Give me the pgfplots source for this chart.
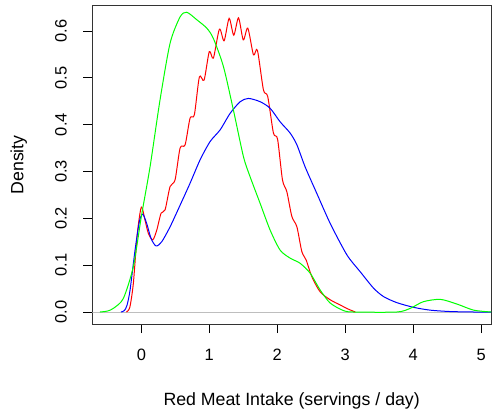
\documentclass[border=0pt]{standalone}
\usepackage{fontspec}
\setmainfont{Liberation Sans}
\usepackage{pgfplots}
\pgfplotsset{compat=1.18}
\definecolor{rgray}{RGB}{190,190,190}
\definecolor{rred}{RGB}{255,0,0}
\definecolor{rgreen}{RGB}{0,255,0}
\definecolor{rblue}{RGB}{0,0,255}
\begin{document}
\begin{tikzpicture}
\begin{axis}[
 name=ax,
 at={(0,0)}, anchor=south west,
 scale only axis, width=398.7bp, height=318.3bp,
 xmin=-0.722, xmax=5.146, ymin=-0.0256, ymax=0.654,
 axis line style={line width=0.8bp, black!80},
 xtick={0,1,2,3,4,5},
 ytick={0,0.1,0.2,0.3,0.4,0.5,0.6},
 yticklabels={0.0,0.1,0.2,0.3,0.4,0.5,0.6},
 xtick pos=bottom, ytick pos=left, tick align=outside,
 major tick length=9bp,
 tick style={line width=0.8bp, black},
 /pgf/number format/assume math mode=true,
 ticklabel style={font=\fontsize{16.5}{19}\selectfont},
 label style={font=\fontsize{17.8}{21}\selectfont},
 xticklabel shift=12.5bp,
 yticklabel shift=13bp,
 yticklabel style={rotate=90, anchor=south},
 xlabel={Red Meat Intake (servings / day)},
 ylabel={Density},
 xlabel style={at={(axis description cs:0.5,-0.2545)}, anchor=base},
 ylabel style={at={(axis description cs:-0.1731,0.5)}, anchor=base},
 every axis plot/.append style={line width=1bp, smooth, tension=0.45},
]
\addplot[rgray, line width=1bp, sharp plot] coordinates {(-0.722,0) (5.146,0)};
\addplot[rred] coordinates {
(-0.22,0) (-0.17,0.01) (-0.118,0.061) (-0.059,0.168) (0.0,0.224) (0.054,0.196) (0.103,0.168) (0.168,0.154) (0.227,0.175) (0.29,0.211) (0.349,0.218) (0.423,0.268) (0.496,0.282) (0.57,0.35) (0.644,0.357) (0.717,0.414) (0.78,0.421) (0.854,0.502) (0.923,0.495) (1.0,0.556) (1.06,0.542) (1.149,0.604) (1.218,0.579) (1.292,0.627) (1.36,0.591) (1.43,0.628) (1.50,0.581) (1.567,0.606) (1.65,0.549) (1.708,0.559) (1.797,0.474) (1.86,0.46) (1.944,0.382) (2.005,0.369) (2.077,0.282) (2.141,0.257) (2.215,0.204) (2.289,0.182) (2.362,0.129) (2.426,0.111) (2.51,0.075) (2.632,0.043) (2.78,0.026) (2.926,0.015) (3.049,0.006) (3.15,0.0)
};
\addplot[rblue] coordinates {
(-0.30,0) (-0.25,0.003) (-0.21,0.015) (-0.166,0.047) (-0.093,0.132) (-0.029,0.193) (0.02,0.209) (0.079,0.189) (0.143,0.157) (0.216,0.141) (0.30,0.150) (0.423,0.182) (0.57,0.228) (0.717,0.275) (0.865,0.325) (1.012,0.364) (1.16,0.389) (1.306,0.424) (1.454,0.449) (1.576,0.456) (1.748,0.449) (1.895,0.435) (2.043,0.406) (2.19,0.382) (2.289,0.357) (2.41,0.31) (2.583,0.253) (2.78,0.189) (3.025,0.122) (3.221,0.086) (3.417,0.051) (3.564,0.033) (3.76,0.020) (4.006,0.010) (4.25,0.004) (4.546,0.001) (4.9,0.0) (5.15,0)
};
\addplot[rgreen] coordinates {
(-0.61,0) (-0.5,0.002) (-0.41,0.008) (-0.265,0.029) (-0.118,0.097) (0.0,0.204) (0.128,0.31) (0.275,0.453) (0.423,0.574) (0.57,0.63) (0.668,0.64) (0.816,0.624) (0.963,0.606) (1.06,0.584) (1.208,0.524) (1.355,0.431) (1.502,0.332) (1.60,0.289) (1.748,0.232) (1.895,0.175) (2.043,0.132) (2.19,0.115) (2.337,0.104) (2.484,0.083) (2.632,0.047) (2.78,0.019) (2.975,0.003) (3.12,0) (3.76,0) (3.96,0.008) (4.15,0.022) (4.40,0.027) (4.645,0.017) (4.89,0.004) (5.15,0)
};
\end{axis}
\pgfresetboundingbox
\useasboundingbox (-92.3bp,-91bp) rectangle ++(492bp,415bp);
\end{tikzpicture}
\end{document}
